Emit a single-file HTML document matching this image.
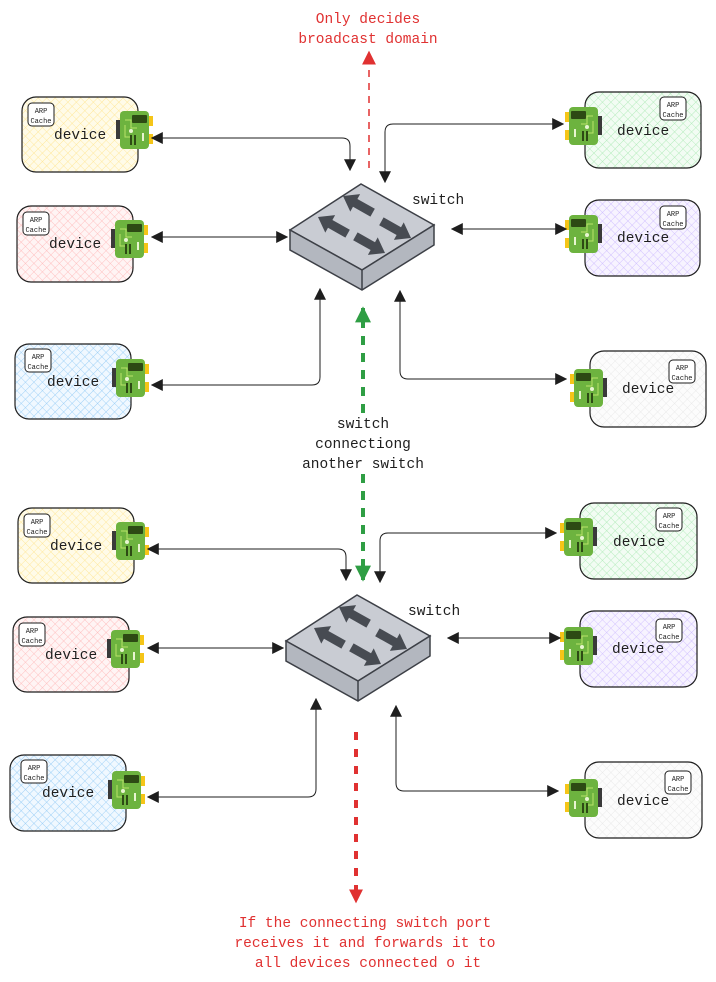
<!DOCTYPE html>
<html><head><meta charset="utf-8"><style>
html,body{margin:0;padding:0;background:#fff;}
svg{display:block;}
text{font-family:"Liberation Mono",monospace;}
</style></head><body>
<svg width="716" height="982" viewBox="0 0 716 982" xmlns="http://www.w3.org/2000/svg">
<defs>
<pattern id="hy" width="6" height="6" patternUnits="userSpaceOnUse" patternTransform="rotate(45)"><rect width="6" height="6" fill="#fffbe8"/><path d="M0 0V6M0 0H6" stroke="#ffe48a" stroke-width="0.8"/></pattern>
<pattern id="hr" width="6" height="6" patternUnits="userSpaceOnUse" patternTransform="rotate(45)"><rect width="6" height="6" fill="#fff4f4"/><path d="M0 0V6M0 0H6" stroke="#ffb3b3" stroke-width="0.8"/></pattern>
<pattern id="hb" width="6" height="6" patternUnits="userSpaceOnUse" patternTransform="rotate(45)"><rect width="6" height="6" fill="#f0f8ff"/><path d="M0 0V6M0 0H6" stroke="#8cc8f5" stroke-width="0.8"/></pattern>
<pattern id="hg" width="6" height="6" patternUnits="userSpaceOnUse" patternTransform="rotate(45)"><rect width="6" height="6" fill="#f2fcf3"/><path d="M0 0V6M0 0H6" stroke="#a6e8b0" stroke-width="0.8"/></pattern>
<pattern id="hp" width="6" height="6" patternUnits="userSpaceOnUse" patternTransform="rotate(45)"><rect width="6" height="6" fill="#f7f3ff"/><path d="M0 0V6M0 0H6" stroke="#c9b6ff" stroke-width="0.8"/></pattern>
<pattern id="hw" width="6" height="6" patternUnits="userSpaceOnUse" patternTransform="rotate(45)"><rect width="6" height="6" fill="#fcfcfc"/><path d="M0 0V6M0 0H6" stroke="#e6e6e6" stroke-width="0.8"/></pattern>
<g id="chipR">
<rect x="-4" y="9" width="5" height="19" fill="#3a3a3a"/>
<rect x="28" y="5" width="5" height="10" fill="#f5c518"/>
<rect x="28" y="23" width="5" height="10" fill="#f5c518"/>
<rect x="0" y="0" width="29" height="38" rx="4" fill="#6db33f"/>
<rect x="12" y="4" width="15" height="8" rx="1" fill="#2d4a14"/>
<path d="M5 9h6v8h6M5 14v12h5" stroke="#b9e36a" fill="none" stroke-width="1"/>
<circle cx="11" cy="20" r="2" fill="#e8f5d0"/>
<rect x="10" y="24" width="2" height="10" fill="#2d4a14"/><rect x="14" y="24" width="2" height="10" fill="#2d4a14"/>
<rect x="22" y="22" width="2" height="8" fill="#e8f5d0"/>
</g>
<g id="chipL"><use href="#chipR" transform="translate(29,0) scale(-1,1)"/></g>
<marker id="ah" viewBox="0 0 10 10" refX="9" refY="5" markerWidth="12" markerHeight="12" markerUnits="userSpaceOnUse" orient="auto-start-reverse"><path d="M0 0L10 5L0 10z" fill="#1e1e1e"/></marker>
<marker id="ag" viewBox="0 0 10 10" refX="9" refY="5" markerWidth="16" markerHeight="16" markerUnits="userSpaceOnUse" orient="auto"><path d="M0 0L10 5L0 10z" fill="#2f9e44"/></marker>
<marker id="ar" viewBox="0 0 10 10" refX="9" refY="5" markerWidth="14" markerHeight="14" markerUnits="userSpaceOnUse" orient="auto"><path d="M0 0L10 5L0 10z" fill="#e03131"/></marker>
<path id="arw" d="M0 0L14 -10L14 -4.5L34 -4.5L34 4.5L14 4.5L14 10Z"/>
<g id="sw">
<path d="M-71 46L0 0L73 41L1 86Z" fill="#c9ccd3" stroke="#3d4047" stroke-width="1.5"/>
<path d="M-71 46L-71 66L1 106L73 61L73 41L1 86Z" fill="#b3b7bf" stroke="#3d4047" stroke-width="1.5"/>
<path d="M1 86V106" stroke="#3d4047" stroke-width="1.5"/>
<g fill="#474b52">
<use href="#arw" transform="translate(-18,12) rotate(29.4)"/>
<use href="#arw" transform="translate(-43,33) rotate(29.4)"/>
<use href="#arw" transform="translate(50,54) rotate(209.4)"/>
<use href="#arw" transform="translate(24,69) rotate(209.4)"/>
</g>
</g>
</defs>

<g stroke="#1e1e1e" stroke-width="1.2">
<rect x="22" y="97" width="116" height="75" rx="14" fill="url(#hy)"/>
<rect x="17" y="206" width="116" height="76" rx="14" fill="url(#hr)"/>
<rect x="15" y="344" width="116" height="75" rx="14" fill="url(#hb)"/>
<rect x="585" y="92" width="116" height="76" rx="14" fill="url(#hg)"/>
<rect x="585" y="200" width="115" height="76" rx="14" fill="url(#hp)"/>
<rect x="590" y="351" width="116" height="76" rx="14" fill="url(#hw)"/>
<rect x="18" y="508" width="116" height="75" rx="14" fill="url(#hy)"/>
<rect x="13" y="617" width="116" height="75" rx="14" fill="url(#hr)"/>
<rect x="10" y="755" width="116" height="76" rx="14" fill="url(#hb)"/>
<rect x="580" y="503" width="117" height="76" rx="14" fill="url(#hg)"/>
<rect x="580" y="611" width="117" height="76" rx="14" fill="url(#hp)"/>
<rect x="585" y="762" width="117" height="76" rx="14" fill="url(#hw)"/>
</g>
<g fill="#fff" stroke="#1e1e1e" stroke-width="1">
<rect x="28" y="103" width="26" height="23" rx="4"/>
<rect x="23" y="212" width="26" height="23" rx="4"/>
<rect x="25" y="349" width="26" height="23" rx="4"/>
<rect x="660" y="97" width="26" height="23" rx="4"/>
<rect x="660" y="206" width="26" height="23" rx="4"/>
<rect x="669" y="360" width="26" height="23" rx="4"/>
<rect x="24" y="514" width="26" height="23" rx="4"/>
<rect x="19" y="623" width="26" height="23" rx="4"/>
<rect x="21" y="760" width="26" height="23" rx="4"/>
<rect x="656" y="508" width="26" height="23" rx="4"/>
<rect x="656" y="619" width="26" height="23" rx="4"/>
<rect x="665" y="771" width="26" height="23" rx="4"/>
</g>
<g font-size="7" fill="#1e1e1e" text-anchor="middle">
<text x="41" y="113">ARP</text><text x="41" y="123">Cache</text>
<text x="36" y="222">ARP</text><text x="36" y="232">Cache</text>
<text x="38" y="359">ARP</text><text x="38" y="369">Cache</text>
<text x="673" y="107">ARP</text><text x="673" y="117">Cache</text>
<text x="673" y="216">ARP</text><text x="673" y="226">Cache</text>
<text x="682" y="370">ARP</text><text x="682" y="380">Cache</text>
<text x="37" y="524">ARP</text><text x="37" y="534">Cache</text>
<text x="32" y="633">ARP</text><text x="32" y="643">Cache</text>
<text x="34" y="770">ARP</text><text x="34" y="780">Cache</text>
<text x="669" y="518">ARP</text><text x="669" y="528">Cache</text>
<text x="669" y="629">ARP</text><text x="669" y="639">Cache</text>
<text x="678" y="781">ARP</text><text x="678" y="791">Cache</text>
</g>
<g font-size="14.5" fill="#1e1e1e">
<text x="54" y="139">device</text>
<text x="49" y="248">device</text>
<text x="47" y="386">device</text>
<text x="617" y="135">device</text>
<text x="617" y="242">device</text>
<text x="622" y="393">device</text>
<text x="50" y="550">device</text>
<text x="45" y="659">device</text>
<text x="42" y="797">device</text>
<text x="613" y="546">device</text>
<text x="612" y="653">device</text>
<text x="617" y="805">device</text>
</g>
<use href="#chipR" x="120" y="111"/>
<use href="#chipR" x="115" y="220"/>
<use href="#chipR" x="116" y="359"/>
<use href="#chipL" x="569" y="107"/>
<use href="#chipL" x="569" y="215"/>
<use href="#chipL" x="574" y="369"/>
<use href="#chipR" x="116" y="522"/>
<use href="#chipR" x="111" y="630"/>
<use href="#chipR" x="112" y="771"/>
<use href="#chipL" x="564" y="518"/>
<use href="#chipL" x="564" y="627"/>
<use href="#chipL" x="569" y="779"/>

<use href="#sw" x="361" y="184"/>
<use href="#sw" x="357" y="595"/>

<g stroke="#1e1e1e" stroke-width="1" fill="none" marker-start="url(#ah)" marker-end="url(#ah)">
<path d="M152 138H342Q350 138 350 146V170"/>
<path d="M152 237H287"/>
<path d="M152 385H312Q320 385 320 377V289"/>
<path d="M563 124H393Q385 124 385 132V182"/>
<path d="M452 229H566"/>
<path d="M566 379H408Q400 379 400 371V291"/>
<path d="M148 549H338Q346 549 346 557V580"/>
<path d="M148 648H283"/>
<path d="M148 797H308Q316 797 316 789V699"/>
<path d="M556 533H388Q380 533 380 541V582"/>
<path d="M448 638H560"/>
<path d="M558 791H404Q396 791 396 783V706"/>
</g>

<path d="M369 168V52" stroke="#e03131" stroke-width="1.5" stroke-dasharray="7 6" fill="none" marker-end="url(#ar)"/>
<path d="M363 413V308" stroke="#2f9e44" stroke-width="4" stroke-dasharray="9 8" fill="none" marker-end="url(#ag)"/>
<path d="M363 474V580" stroke="#2f9e44" stroke-width="4" stroke-dasharray="9 8" fill="none" marker-end="url(#ag)"/>
<path d="M356 732V902" stroke="#e03131" stroke-width="4" stroke-dasharray="8 9" fill="none" marker-end="url(#ar)"/>

<g font-size="14.5" fill="#1e1e1e">
<text x="412" y="204">switch</text>
<text x="408" y="615">switch</text>
</g>
<g font-size="14.5" fill="#1e1e1e" text-anchor="middle">
<text x="363" y="428">switch</text>
<text x="363" y="448">connectiong</text>
<text x="363" y="468">another switch</text>
</g>
<g font-size="14.5" fill="#e03131" text-anchor="middle">
<text x="368" y="23">Only decides</text>
<text x="368" y="43">broadcast domain</text>
<text x="365" y="927">If the connecting switch port</text>
<text x="365" y="947">receives it and forwards it to</text>
<text x="368" y="967">all devices connected o it</text>
</g>
</svg>
</body></html>
